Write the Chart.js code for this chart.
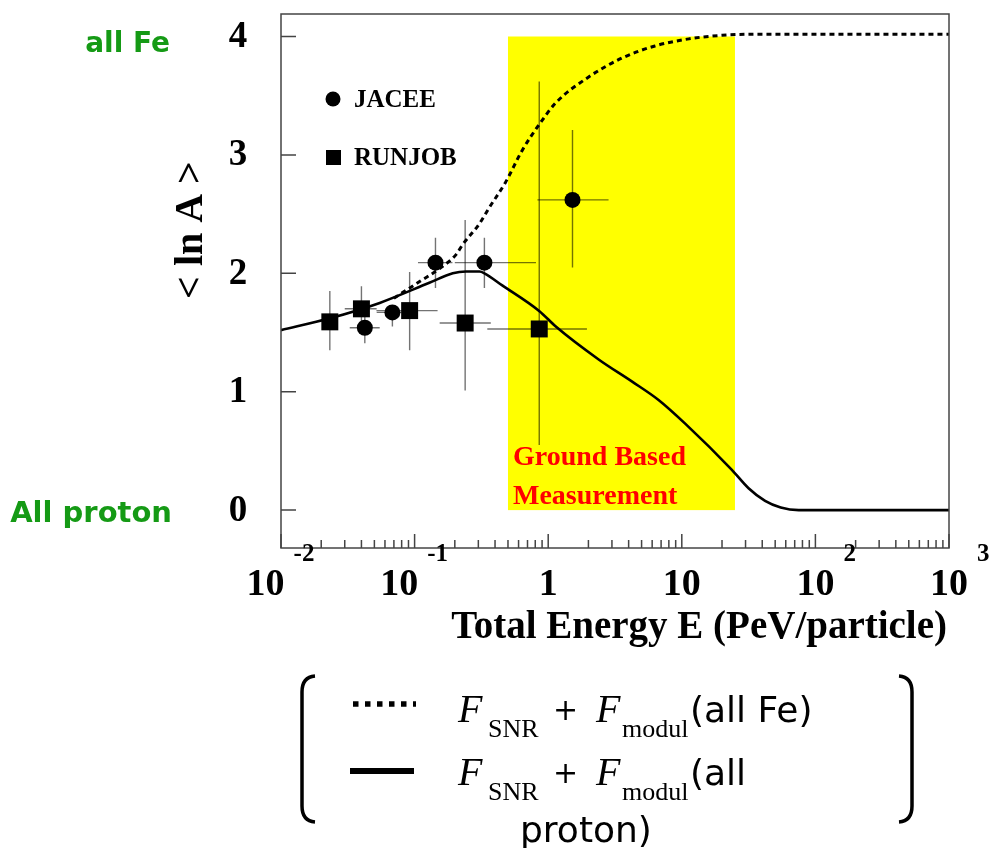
<!DOCTYPE html>
<html>
<head>
<meta charset="utf-8">
<script src="https://cdn.jsdelivr.net/npm/chart.js@4.4.0/dist/chart.umd.min.js"></script>
<style>
  html, body { margin: 0; padding: 0; background: #fff; }
  canvas { display: block; }
</style>
</head>
<body>
<canvas id="lnA-chart" width="990" height="848"></canvas>
<script>
// axis ranges
const xRange = [0.01, 1000];
const yRange = [-0.32, 4.19];
const xTickPowers = [-2, -1, 0, 1, 2, 3];
const yTicks = [0, 1, 2, 3, 4];

// ground based measurement window (energy, <ln A>)
const bandE = [0.5, 25];
const bandLnA = [0, 4];

// F_SNR + F_modul (all Fe)
const feE = [0.07, 0.109, 0.154, 0.205, 0.228, 0.306, 0.36, 0.48, 0.64, 0.86, 1.14, 2.02, 3.6, 6.3, 11.3, 20, 40, 1000];
const feLnA = [1.79, 1.93, 2.04, 2.16, 2.24, 2.42, 2.55, 2.77, 3.04, 3.26, 3.44, 3.66, 3.82, 3.92, 3.98, 4.01, 4.02, 4.02];

// F_SNR + F_modul (all proton)
const pE = [0.01, 0.0232, 0.0548, 0.129, 0.193, 0.243, 0.306, 0.333, 0.45, 0.86, 1.14, 2.4, 4.25, 6.7, 10.6, 23.7, 31.6, 42, 55, 75, 1000];
const pLnA = [1.52, 1.62, 1.75, 1.92, 2.0, 2.015, 2.015, 2.0, 1.9, 1.68, 1.55, 1.27, 1.085, 0.93, 0.73, 0.34, 0.185, 0.078, 0.022, 0, 0];

// JACEE
const jE = [0.0424, 0.0682, 0.1433, 0.333, 1.52];
const jLnA = [1.54, 1.67, 2.09, 2.09, 2.62];
const jELo = [0.0327, 0.052, 0.106, 0.2, 0.83];
const jEHi = [0.0548, 0.08, 0.192, 0.81, 2.83];
const jLo = [1.41, 1.55, 1.875, 1.875, 2.05];
const jHi = [1.67, 1.73, 2.30, 2.30, 3.21];

// RUNJOB
const rE = [0.0232, 0.04, 0.0918, 0.239, 0.857];
const rLnA = [1.59, 1.70, 1.685, 1.58, 1.53];
const rELo = [0.0232, 0.030, 0.0518, 0.154, 0.35];
const rEHi = [0.0232, 0.052, 0.1486, 0.372, 1.95];
const rLo = [1.35, 1.5, 1.35, 1.01, 0.55];
const rHi = [1.85, 1.89, 2.01, 2.45, 3.62];

const SERIF = '"Liberation Serif", "Times New Roman", serif';
const SANS = '"DejaVu Sans", Verdana, sans-serif';
const GREEN = "#159a15";

const pts = (xs, ys) => xs.map((v, i) => ({ x: v, y: ys[i] }));

// yellow window, its label and the error bars go under the curves
const backdrop = {
  id: "backdrop",
  beforeDatasetsDraw(chart) {
    const { ctx, scales: { x, y } } = chart;
    ctx.save();
    const x0 = x.getPixelForValue(bandE[0]);
    const x1 = x.getPixelForValue(bandE[1]);
    const y0 = y.getPixelForValue(bandLnA[1]);
    const y1 = y.getPixelForValue(bandLnA[0]);
    ctx.fillStyle = "#ffff00";
    ctx.fillRect(x0, y0, x1 - x0, y1 - y0);

    ctx.fillStyle = "#ff0000";
    ctx.font = "bold 28px " + SERIF;
    ctx.fillText("Ground Based", x0 + 5, y1 - 45);
    ctx.fillText("Measurement", x0 + 5, y1 - 6);

    ctx.strokeStyle = "rgba(0,0,0,0.55)";
    ctx.lineWidth = 1.4;
    const bars = (E, lnA, eLo, eHi, lo, hi) => {
      E.forEach((e, i) => {
        const px = x.getPixelForValue(e);
        const py = y.getPixelForValue(lnA[i]);
        ctx.beginPath();
        ctx.moveTo(px, y.getPixelForValue(lo[i]));
        ctx.lineTo(px, y.getPixelForValue(hi[i]));
        if (eHi[i] > eLo[i]) {
          ctx.moveTo(x.getPixelForValue(eLo[i]), py);
          ctx.lineTo(x.getPixelForValue(eHi[i]), py);
        }
        ctx.stroke();
      });
    };
    bars(jE, jLnA, jELo, jEHi, jLo, jHi);
    bars(rE, rLnA, rELo, rEHi, rLo, rHi);
    ctx.restore();
  }
};

// frame, ticks, tick labels, titles and legends
const frame = {
  id: "frame",
  afterDraw(chart) {
    const { ctx, chartArea: a, scales: { x, y } } = chart;
    ctx.save();
    ctx.strokeStyle = "#444";
    ctx.lineWidth = 1.5;
    ctx.strokeRect(a.left, a.top, a.right - a.left, a.bottom - a.top);

    // x ticks, 1..9 per decade
    ctx.beginPath();
    xTickPowers.forEach(p => {
      for (let m = 1; m <= 9; m++) {
        const v = m * Math.pow(10, p);
        if (v > xRange[1] * 1.0001) break;
        const px = x.getPixelForValue(v);
        ctx.moveTo(px, a.bottom);
        ctx.lineTo(px, a.bottom - (m === 1 ? 14 : 8));
      }
    });
    // y ticks
    yTicks.forEach(t => {
      const py = y.getPixelForValue(t);
      ctx.moveTo(a.left, py);
      ctx.lineTo(a.left + 15, py);
    });
    ctx.stroke();

    // x tick labels
    ctx.fillStyle = "#000";
    ctx.textBaseline = "alphabetic";
    xTickPowers.forEach(p => {
      const px = x.getPixelForValue(Math.pow(10, p));
      const base = p === 0 ? "1" : "10";
      const sup = p === 0 || p === 1 ? "" : String(p);
      ctx.font = "bold 38px " + SERIF;
      const wb = ctx.measureText(base).width;
      ctx.font = "bold 25px " + SERIF;
      const ws = ctx.measureText(sup).width;
      let left = px - wb / 2;
      if (p < 0) left = px - (wb + 10 + ws) / 2;
      ctx.font = "bold 38px " + SERIF;
      ctx.textAlign = "left";
      ctx.fillText(base, left, 595);
      if (sup) {
        ctx.font = "bold 25px " + SERIF;
        ctx.fillText(sup, left + wb + 9, 561);
      }
    });

    // y tick labels
    ctx.font = "bold 37px " + SERIF;
    ctx.textAlign = "center";
    ctx.textBaseline = "middle";
    yTicks.forEach(t => ctx.fillText(String(t), 238, y.getPixelForValue(t) + 1));

    // axis titles
    ctx.textAlign = "right";
    ctx.textBaseline = "alphabetic";
    ctx.font = "bold 39px " + SERIF;
    ctx.fillText("Total Energy E (PeV/particle)", a.right - 2, 638);

    ctx.save();
    ctx.translate(192, 230);
    ctx.rotate(-Math.PI / 2);
    ctx.textAlign = "center";
    ctx.textBaseline = "middle";
    ctx.font = "bold 40px " + SERIF;
    ctx.fillText("< ln A >", 0, 0);
    ctx.restore();

    // composition marks beside the y axis
    ctx.fillStyle = GREEN;
    ctx.font = "bold 28px " + SANS;
    ctx.textAlign = "right";
    ctx.fillText("all Fe", 170, 52);
    ctx.font = "bold 29px " + SANS;
    ctx.fillText("All proton", 172, 522);

    // marker key inside the frame
    ctx.fillStyle = "#000";
    ctx.beginPath();
    ctx.arc(a.left + 52, a.top + 85, 7.5, 0, Math.PI * 2);
    ctx.fill();
    ctx.fillRect(a.left + 45, a.top + 136, 15, 15);
    ctx.font = "bold 25px " + SERIF;
    ctx.textAlign = "left";
    ctx.textBaseline = "middle";
    ctx.fillText("JACEE", a.left + 73, a.top + 87);
    ctx.fillText("RUNJOB", a.left + 73, a.top + 145);

    // line key with brackets
    ctx.strokeStyle = "#000";
    ctx.lineWidth = 3.5;
    ctx.beginPath();
    ctx.moveTo(315, 676);
    ctx.quadraticCurveTo(302, 677, 302, 692);
    ctx.lineTo(302, 806);
    ctx.quadraticCurveTo(302, 821, 315, 822);
    ctx.moveTo(899, 676);
    ctx.quadraticCurveTo(912, 677, 912, 692);
    ctx.lineTo(912, 806);
    ctx.quadraticCurveTo(912, 821, 899, 822);
    ctx.stroke();

    ctx.lineWidth = 5.5;
    ctx.setLineDash([5.5, 6.5]);
    ctx.beginPath();
    ctx.moveTo(353, 704);
    ctx.lineTo(416, 704);
    ctx.stroke();
    ctx.setLineDash([]);
    ctx.lineWidth = 6;
    ctx.beginPath();
    ctx.moveTo(350, 771);
    ctx.lineTo(414, 771);
    ctx.stroke();

    const formula = (base, tail) => {
      ctx.textAlign = "left";
      ctx.textBaseline = "alphabetic";
      ctx.font = "italic 40px " + SERIF;
      ctx.fillText("F", 458, base);
      ctx.font = "26px " + SERIF;
      ctx.fillText("SNR", 488, base + 15);
      ctx.font = "30px " + SANS;
      ctx.fillText("+", 553, base - 2);
      ctx.font = "italic 40px " + SERIF;
      ctx.fillText("F", 596, base);
      ctx.font = "26px " + SERIF;
      ctx.fillText("modul", 622, base + 15);
      ctx.font = "36px " + SANS;
      ctx.fillText(tail, 690, base);
    };
    formula(722, "(all Fe)");
    formula(785, "(all");
    ctx.font = "36px " + SANS;
    ctx.fillText("proton)", 520, 842);
    ctx.restore();
  }
};

new Chart(document.getElementById("lnA-chart"), {
  type: "scatter",
  data: {
    datasets: [
      {
        label: "all Fe",
        data: pts(feE, feLnA),
        showLine: true,
        borderColor: "#000",
        borderWidth: 3,
        borderDash: [5, 4],
        pointRadius: 0,
        cubicInterpolationMode: "monotone",
      },
      {
        label: "all proton",
        data: pts(pE, pLnA),
        showLine: true,
        borderColor: "#000",
        borderWidth: 2.6,
        pointRadius: 0,
        cubicInterpolationMode: "monotone",
      },
      {
        label: "JACEE",
        data: pts(jE, jLnA),
        pointStyle: "circle",
        pointRadius: 8,
        backgroundColor: "#000",
        borderWidth: 0,
      },
      {
        label: "RUNJOB",
        data: pts(rE, rLnA),
        pointStyle: "rect",
        pointRadius: 12,
        backgroundColor: "#000",
        borderWidth: 0,
      },
    ],
  },
  options: {
    responsive: false,
    animation: false,
    layout: { padding: { left: 281, right: 41, top: 14, bottom: 300 } },
    scales: {
      x: { type: "logarithmic", min: xRange[0], max: xRange[1], display: false },
      y: { type: "linear", min: yRange[0], max: yRange[1], display: false },
    },
    plugins: {
      legend: { display: false },
      tooltip: { enabled: false },
    },
  },
  plugins: [backdrop, frame],
});
</script>
</body>
</html>
